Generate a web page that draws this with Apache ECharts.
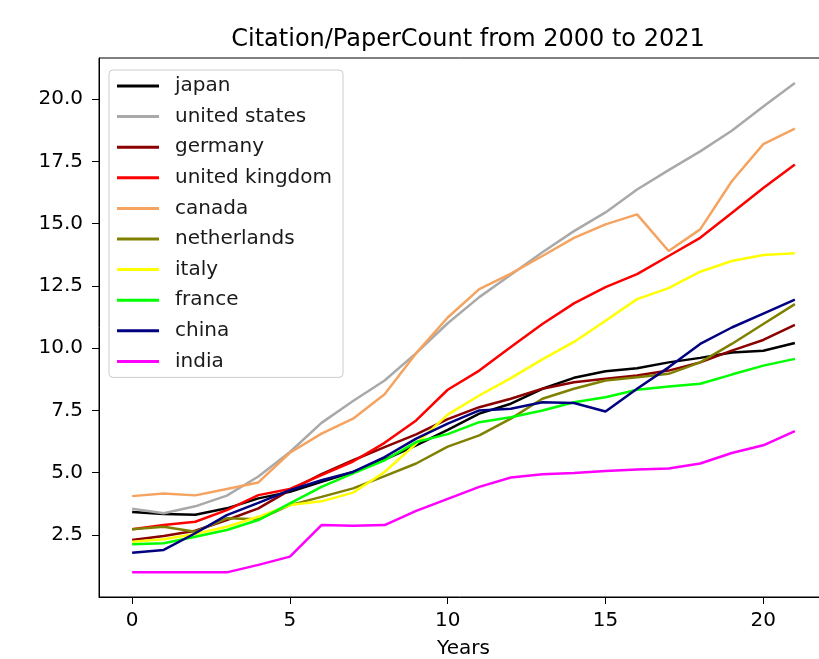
<!DOCTYPE html>
<html>
<head>
<meta charset="utf-8">
<script src="https://cdn.jsdelivr.net/npm/echarts@6/dist/echarts.min.js"></script>
<style>
  html, body { margin: 0; padding: 0; background: #fff; }
  #chart { width: 819px; height: 659px; }
</style>
</head>
<body>
<div id="chart"></div>
<script>
// Years since 2000 (x axis)
const years = [0, 1, 2, 3, 4, 5, 6, 7, 8, 9, 10, 11, 12, 13, 14, 15, 16, 17, 18, 19, 20, 21];

// Citation / paper count per country
const japan = [3.42, 3.34, 3.31, 3.57, 3.97, 4.23, 4.63, 5.03, 5.53, 6.10, 6.72, 7.37, 7.77, 8.37, 8.81, 9.07, 9.19, 9.43, 9.61, 9.83, 9.90, 10.21];
const unitedStates = [3.55, 3.37, 3.65, 4.08, 4.85, 5.83, 7.00, 7.88, 8.70, 9.80, 11.00, 12.05, 12.95, 13.85, 14.70, 15.45, 16.37, 17.15, 17.90, 18.73, 19.70, 20.65];
const germany = [2.30, 2.46, 2.67, 3.10, 3.57, 4.30, 4.94, 5.50, 6.03, 6.54, 7.15, 7.63, 7.97, 8.37, 8.63, 8.77, 8.90, 9.10, 9.43, 9.90, 10.33, 10.94];
const unitedKingdom = [2.73, 2.90, 3.03, 3.50, 4.10, 4.35, 4.90, 5.45, 6.20, 7.10, 8.33, 9.10, 10.05, 10.97, 11.80, 12.45, 12.97, 13.70, 14.43, 15.43, 16.43, 17.37];
const canada = [4.06, 4.17, 4.09, 4.35, 4.61, 5.80, 6.57, 7.17, 8.15, 9.80, 11.23, 12.37, 12.99, 13.70, 14.43, 14.97, 15.37, 13.90, 14.77, 16.70, 18.19, 18.81];
const netherlands = [2.73, 2.83, 2.63, 3.17, 3.13, 3.70, 4.03, 4.37, 4.86, 5.37, 6.05, 6.50, 7.17, 7.97, 8.37, 8.70, 8.83, 8.97, 9.43, 10.17, 10.97, 11.77];
const italy = [2.23, 2.33, 2.54, 2.83, 3.23, 3.70, 3.85, 4.20, 5.03, 6.17, 7.33, 8.10, 8.80, 9.55, 10.25, 11.10, 11.97, 12.41, 13.07, 13.50, 13.74, 13.81];
const france = [2.13, 2.17, 2.43, 2.70, 3.10, 3.77, 4.43, 4.97, 5.50, 6.23, 6.55, 7.03, 7.23, 7.50, 7.83, 8.03, 8.33, 8.46, 8.57, 8.94, 9.30, 9.57];
const china = [1.79, 1.90, 2.57, 3.30, 3.79, 4.30, 4.70, 5.03, 5.63, 6.37, 6.97, 7.50, 7.57, 7.83, 7.80, 7.46, 8.37, 9.23, 10.17, 10.83, 11.39, 11.95];
const india = [1.00, 1.00, 1.00, 1.00, 1.30, 1.63, 2.90, 2.87, 2.90, 3.47, 3.95, 4.43, 4.81, 4.94, 4.99, 5.07, 5.13, 5.17, 5.37, 5.79, 6.10, 6.67];

// Tick positions
const xTicks = [0, 5, 10, 15, 20];
const yTicks = [2.5, 5.0, 7.5, 10.0, 12.5, 15.0, 17.5, 20.0];

const seriesDefs = [
  ['japan', japan, '#000000'],
  ['united states', unitedStates, '#a9a9a9'],
  ['germany', germany, '#8b0000'],
  ['united kingdom', unitedKingdom, '#ff0000'],
  ['canada', canada, '#f4a460'],
  ['netherlands', netherlands, '#808000'],
  ['italy', italy, '#ffff00'],
  ['france', france, '#00ff00'],
  ['china', china, '#000080'],
  ['india', india, '#ff00ff']
];

const FONT = 'DejaVu Sans';
const chart = echarts.init(document.getElementById('chart'), null, { renderer: 'canvas' });

chart.setOption({
  animation: false,
  backgroundColor: '#ffffff',
  textStyle: { fontFamily: FONT },
  title: {
    text: 'Citation/PaperCount from 2000 to 2021',
    left: 463,
    top: 23,
    textAlign: 'center',
    textStyle: { fontFamily: FONT, fontSize: 24, fontWeight: 'normal', color: '#000' }
  },
  grid: {
    left: 99,
    top: 58,
    width: 729,
    height: 539,
    show: true,
    borderColor: '#000',
    borderWidth: 1,
    backgroundColor: 'transparent',
    containLabel: false,
    outerBoundsMode: 'none'
  },
  legend: {
    orient: 'vertical',
    left: 109,
    top: 70,
    padding: [6, 11, 6, 8],
    itemGap: 10.6,
    itemWidth: 42,
    itemHeight: 3,
    icon: 'rect',
    backgroundColor: 'rgba(255,255,255,0.8)',
    borderColor: '#cccccc',
    borderWidth: 1,
    borderRadius: 4,
    textStyle: {
      fontFamily: FONT,
      fontSize: 20,
      lineHeight: 20,
      color: '#1a1a1a',
      padding: [0, 0, 0, 11]
    },
    data: seriesDefs.map(d => d[0])
  },
  xAxis: {
    type: 'value',
    min: -1.05,
    max: 22.05,
    name: 'Years',
    nameLocation: 'middle',
    nameGap: 42,
    nameTextStyle: { fontFamily: FONT, fontSize: 20, color: '#000' },
    splitLine: { show: false },
    axisLine: { show: true, onZero: false, lineStyle: { color: '#000', width: 1 } },
    axisTick: { show: true, length: 7, customValues: xTicks, lineStyle: { color: '#000', width: 1 } },
    axisLabel: {
      customValues: xTicks,
      margin: 14,
      fontFamily: FONT,
      fontSize: 20,
      color: '#000'
    }
  },
  yAxis: {
    type: 'value',
    min: 0.01,
    max: 21.65,
    splitLine: { show: false },
    axisLine: { show: true, onZero: false, lineStyle: { color: '#000', width: 1 } },
    axisTick: { show: true, length: 7, customValues: yTicks, lineStyle: { color: '#000', width: 1 } },
    axisLabel: {
      customValues: yTicks,
      margin: 16,
      fontFamily: FONT,
      fontSize: 20,
      color: '#000',
      formatter: v => v.toFixed(1)
    }
  },
  series: seriesDefs.map(([name, values, color]) => ({
    name: name,
    type: 'line',
    data: years.map((yr, i) => [yr, values[i]]),
    showSymbol: false,
    symbol: 'none',
    color: color,
    lineStyle: { color: color, width: 2.5 },
    emphasis: { disabled: true }
  }))
});
</script>
</body>
</html>
